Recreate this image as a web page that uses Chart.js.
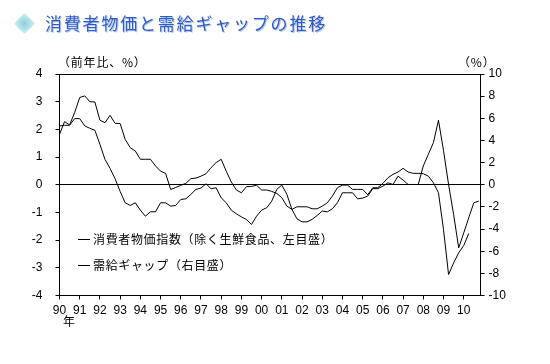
<!DOCTYPE html>
<html lang="ja">
<head>
<meta charset="utf-8">
<title>消費者物価と需給ギャップの推移</title>
<script src="https://cdn.jsdelivr.net/npm/chart.js@4"></script>
<style>
  html, body { margin: 0; padding: 0; background: #fff; }
  #contenedor { position: relative; width: 550px; height: 364px; overflow: hidden; }
  canvas { position: absolute; left: 0; top: 0; }
  .texto { position: absolute; white-space: nowrap; color: #000;
           font-family: "Noto Sans CJK JP", sans-serif; font-size: 12px; line-height: 14px; }
  .unidad { letter-spacing: 0.8px; }
  .leyenda { left: 93px; letter-spacing: 0.65px; }
  .raya { position: absolute; left: 78px; width: 12px; height: 1px; background: #000; }
  #titulo { left: 45px; top: 11px; font-size: 17px; line-height: 24px; letter-spacing: 1.8px;
            color: #3a55c8; text-shadow: 1px 1px 0 #a9d3ea; }
  #rombo { position: absolute; left: 17px; top: 16px; width: 15px; height: 15px;
           transform: rotate(45deg);
           background: radial-gradient(circle, #8fcfdc 0%, #b5e3ea 60%, #d3f0f3 100%); }
</style>
</head>
<body>
<div id="contenedor">
  <canvas id="grafica" width="550" height="364"></canvas>
  <div id="rombo"></div>
  <div class="texto" id="titulo">消費者物価と需給ギャップの推移</div>
  <div class="texto unidad" style="left:58px;top:55px">（前年比、%）</div>
  <div class="texto unidad" style="left:458px;top:55px">（%）</div>
  <div class="texto" style="left:63px;top:314px">年</div>
  <div class="raya" style="top:239px"></div>
  <div class="texto leyenda" id="leyenda1" style="top:232px"></div>
  <div class="raya" style="top:265px"></div>
  <div class="texto leyenda" id="leyenda2" style="top:258px"></div>
</div>
<script>
const serieIpc = '消費者物価指数（除く生鮮食品、左目盛）';
const serieGap = '需給ギャップ（右目盛）';

// Trimestral desde 1990 Q1
const ipc = [
  1.82, 2.28, 2.16, 2.61, 3.15, 3.21, 3.0, 2.99, 2.33, 2.24, 2.51, 2.22,
  2.21, 1.64, 1.34, 1.22, 0.92, 0.92, 0.92, 0.68, 0.49, 0.41, -0.17, -0.1,
  -0.02, 0.05, 0.22, 0.24, 0.31, 0.40, 0.62, 0.80, 0.92, 0.49, 0.10, -0.19,
  -0.29, -0.07, -0.06, -0.02, -0.19, -0.19, -0.24, -0.31, -0.47, -0.77, -0.89, -1.23,
  -1.34, -1.34, -1.25, -1.11, -0.95, -0.98, -0.87, -0.65, -0.29, -0.29, -0.29, -0.51,
  -0.48, -0.41, -0.14, -0.14, -0.05, 0.07, 0.01, 0.31, 0.17, 0.01, 0.01, 0.01,
  0.68, 1.10, 1.52, 2.33, 1.24, 0.01, -1.07, -2.28, -1.74, -1.19, -0.65, -0.59
];
const gap = [
  5.31, 5.37, 5.37, 5.97, 5.97, 5.31, 5.10, 4.92, 3.65, 2.29, 1.48, 0.54,
  -0.60, -1.63, -1.87, -1.63, -2.29, -2.84, -2.44, -2.44, -1.63, -1.63, -1.93, -1.87,
  -1.33, -1.27, -0.87, -0.42, -0.30, 0.09, -0.36, -0.27, -1.18, -1.63, -2.29, -2.62,
  -2.90, -3.14, -3.59, -2.84, -2.29, -2.08, -1.48, -0.42, -0.03, -0.87, -2.23, -1.99,
  -1.99, -1.99, -2.17, -2.17, -1.93, -1.63, -1.03, -0.27, -0.03, -0.03, -0.42, -0.42,
  -0.42, -0.90, -0.27, -0.27, 0.12, 0.63, 0.94, 1.15, 1.48, 1.15, 1.03, 1.03,
  1.00, 0.78, 0.18, -0.72, -4.04, -8.11, -7.06, -6.15, -5.49, -4.40
];
const trimestres = ipc.map((_, i) => 1990 + i / 4);

function puntos(valores) {
  return valores.map((v, i) => ({ x: trimestres[i], y: v }));
}

function fijarAncho(ancho) {
  return eje => { eje.width = ancho; };
}

document.getElementById('leyenda1').textContent = serieIpc;
document.getElementById('leyenda2').textContent = serieGap;

const fuenteEjes = { family: '"Liberation Sans", Arial, sans-serif', size: 12 };

const ctx = document.getElementById('grafica').getContext('2d');
new Chart(ctx, {
  type: 'line',
  data: {
    datasets: [
      { label: serieIpc, data: puntos(ipc), yAxisID: 'y', borderColor: '#000', borderWidth: 1, pointRadius: 0, tension: 0 },
      { label: serieGap, data: puntos(gap), yAxisID: 'y1', borderColor: '#000', borderWidth: 1, pointRadius: 0, tension: 0 }
    ]
  },
  options: {
    responsive: false,
    animation: false,
    layout: { padding: { top: 74, left: 0, right: 0, bottom: 0 } },
    plugins: { legend: { display: false }, title: { display: false }, tooltip: { enabled: false } },
    scales: {
      x: {
        type: 'linear',
        min: 1990,
        max: 2010.83,
        afterFit: eje => { eje.height = 68.5; },
        border: { color: '#000' },
        grid: { drawOnChartArea: false, tickLength: 4, tickColor: '#000' },
        ticks: {
          stepSize: 1,
          includeBounds: false,
          autoSkip: false,
          maxRotation: 0,
          padding: 4,
          color: '#000',
          font: fuenteEjes,
          callback: v => String(v % 100).padStart(2, '0')
        }
      },
      y: {
        position: 'left',
        min: -4,
        max: 4,
        afterFit: fijarAncho(59.5),
        border: { color: '#000' },
        grid: {
          tickLength: 4,
          tickColor: '#000',
          color: c => (c.tick.value === 0 || c.tick.value === 4) ? '#000' : 'transparent'
        },
        ticks: { stepSize: 1, padding: 13, color: '#000', font: fuenteEjes }
      },
      y1: {
        position: 'right',
        min: -10,
        max: 10,
        afterFit: fijarAncho(69.5),
        border: { color: '#000' },
        grid: { drawOnChartArea: false, tickLength: 4, tickColor: '#000' },
        ticks: { stepSize: 2, padding: 4, color: '#000', font: fuenteEjes }
      }
    }
  }
});
</script>
</body>
</html>
